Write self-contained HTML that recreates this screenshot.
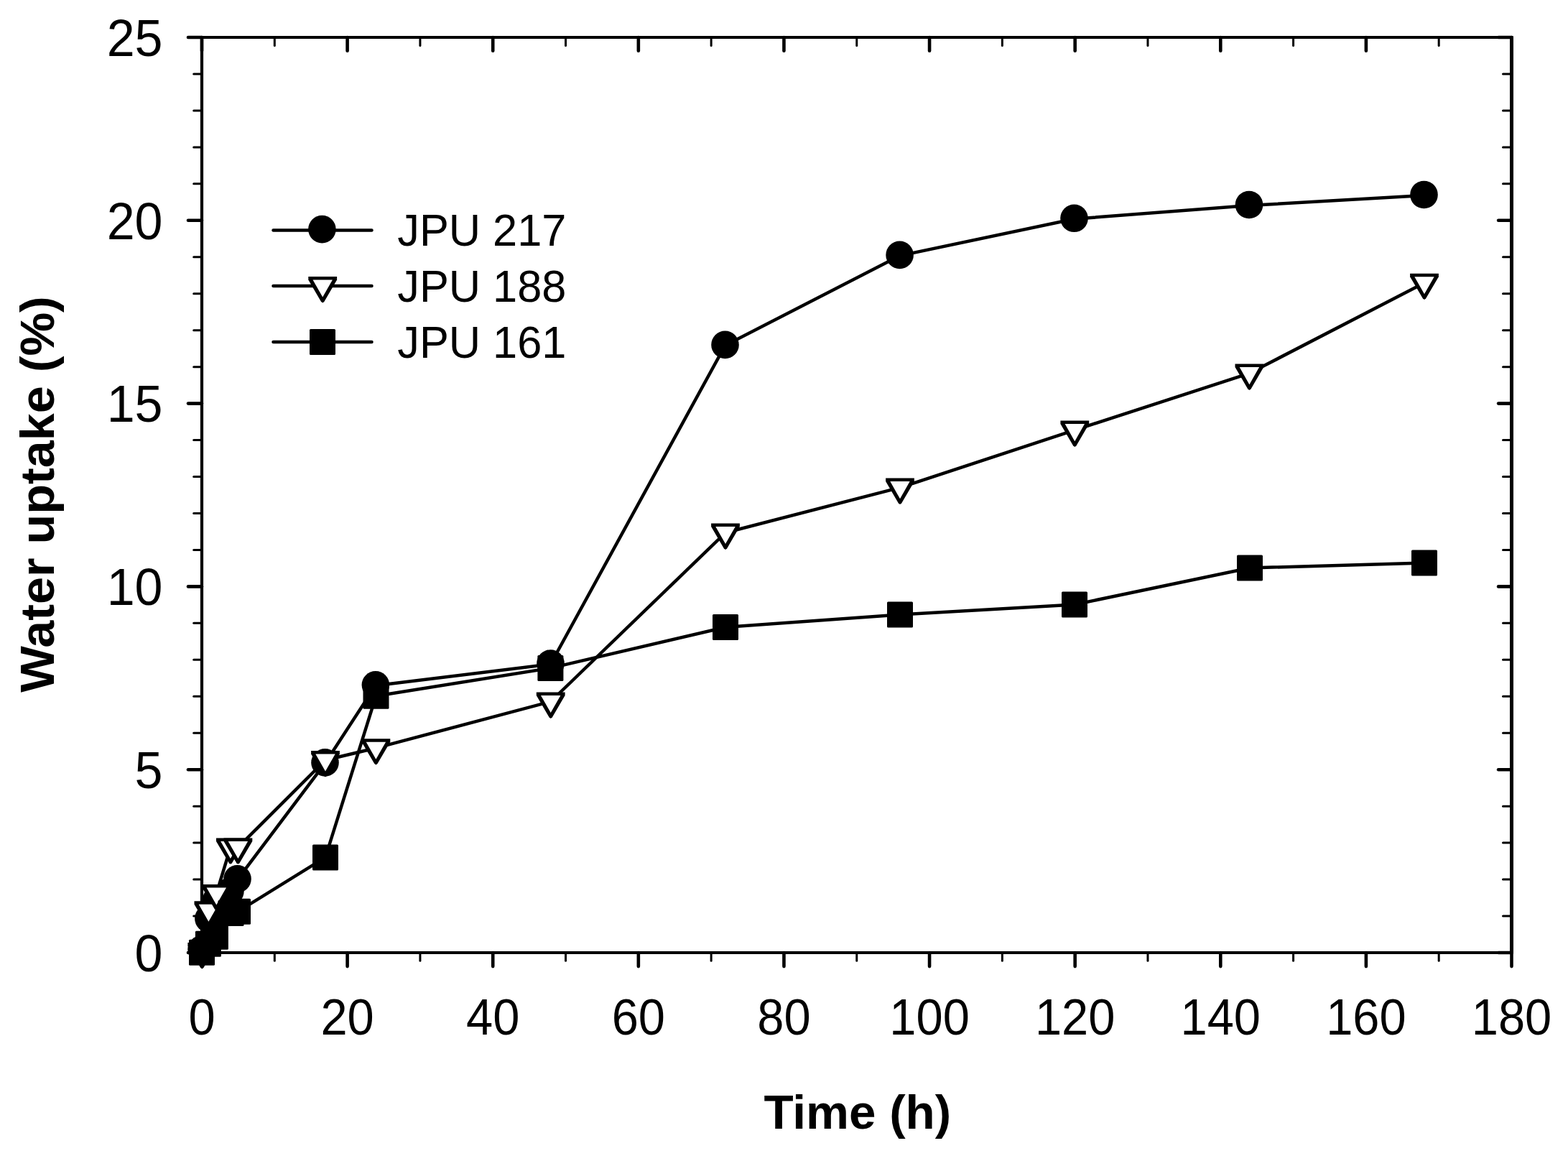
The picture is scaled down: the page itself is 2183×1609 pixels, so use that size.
<!DOCTYPE html>
<html><head><meta charset="utf-8"><title>Water uptake vs time</title>
<style>html,body{margin:0;padding:0;background:#fff;overflow:hidden;}svg{display:block;}</style>
</head><body>
<svg width="2183" height="1609" viewBox="0 0 2183 1609"><rect x="0" y="0" width="2183" height="1609" fill="#fff"/>
<g stroke="#000" stroke-linecap="round"><line x1="281" y1="1326" x2="262" y2="1326" stroke-width="4.6"/><line x1="2104.5" y1="1326" x2="2086.1" y2="1326" stroke-width="4.6"/><line x1="281" y1="1275.04" x2="269.7" y2="1275.04" stroke-width="3.0"/><line x1="2104.5" y1="1275.04" x2="2092.5" y2="1275.04" stroke-width="3.0"/><line x1="281" y1="1224.08" x2="269.7" y2="1224.08" stroke-width="3.0"/><line x1="2104.5" y1="1224.08" x2="2092.5" y2="1224.08" stroke-width="3.0"/><line x1="281" y1="1173.12" x2="269.7" y2="1173.12" stroke-width="3.0"/><line x1="2104.5" y1="1173.12" x2="2092.5" y2="1173.12" stroke-width="3.0"/><line x1="281" y1="1122.16" x2="269.7" y2="1122.16" stroke-width="3.0"/><line x1="2104.5" y1="1122.16" x2="2092.5" y2="1122.16" stroke-width="3.0"/><line x1="281" y1="1071.2" x2="262" y2="1071.2" stroke-width="4.6"/><line x1="2104.5" y1="1071.2" x2="2086.1" y2="1071.2" stroke-width="4.6"/><line x1="281" y1="1020.24" x2="269.7" y2="1020.24" stroke-width="3.0"/><line x1="2104.5" y1="1020.24" x2="2092.5" y2="1020.24" stroke-width="3.0"/><line x1="281" y1="969.28" x2="269.7" y2="969.28" stroke-width="3.0"/><line x1="2104.5" y1="969.28" x2="2092.5" y2="969.28" stroke-width="3.0"/><line x1="281" y1="918.32" x2="269.7" y2="918.32" stroke-width="3.0"/><line x1="2104.5" y1="918.32" x2="2092.5" y2="918.32" stroke-width="3.0"/><line x1="281" y1="867.36" x2="269.7" y2="867.36" stroke-width="3.0"/><line x1="2104.5" y1="867.36" x2="2092.5" y2="867.36" stroke-width="3.0"/><line x1="281" y1="816.4" x2="262" y2="816.4" stroke-width="4.6"/><line x1="2104.5" y1="816.4" x2="2086.1" y2="816.4" stroke-width="4.6"/><line x1="281" y1="765.44" x2="269.7" y2="765.44" stroke-width="3.0"/><line x1="2104.5" y1="765.44" x2="2092.5" y2="765.44" stroke-width="3.0"/><line x1="281" y1="714.48" x2="269.7" y2="714.48" stroke-width="3.0"/><line x1="2104.5" y1="714.48" x2="2092.5" y2="714.48" stroke-width="3.0"/><line x1="281" y1="663.52" x2="269.7" y2="663.52" stroke-width="3.0"/><line x1="2104.5" y1="663.52" x2="2092.5" y2="663.52" stroke-width="3.0"/><line x1="281" y1="612.56" x2="269.7" y2="612.56" stroke-width="3.0"/><line x1="2104.5" y1="612.56" x2="2092.5" y2="612.56" stroke-width="3.0"/><line x1="281" y1="561.6" x2="262" y2="561.6" stroke-width="4.6"/><line x1="2104.5" y1="561.6" x2="2086.1" y2="561.6" stroke-width="4.6"/><line x1="281" y1="510.64" x2="269.7" y2="510.64" stroke-width="3.0"/><line x1="2104.5" y1="510.64" x2="2092.5" y2="510.64" stroke-width="3.0"/><line x1="281" y1="459.68" x2="269.7" y2="459.68" stroke-width="3.0"/><line x1="2104.5" y1="459.68" x2="2092.5" y2="459.68" stroke-width="3.0"/><line x1="281" y1="408.72" x2="269.7" y2="408.72" stroke-width="3.0"/><line x1="2104.5" y1="408.72" x2="2092.5" y2="408.72" stroke-width="3.0"/><line x1="281" y1="357.76" x2="269.7" y2="357.76" stroke-width="3.0"/><line x1="2104.5" y1="357.76" x2="2092.5" y2="357.76" stroke-width="3.0"/><line x1="281" y1="306.8" x2="262" y2="306.8" stroke-width="4.6"/><line x1="2104.5" y1="306.8" x2="2086.1" y2="306.8" stroke-width="4.6"/><line x1="281" y1="255.84" x2="269.7" y2="255.84" stroke-width="3.0"/><line x1="2104.5" y1="255.84" x2="2092.5" y2="255.84" stroke-width="3.0"/><line x1="281" y1="204.88" x2="269.7" y2="204.88" stroke-width="3.0"/><line x1="2104.5" y1="204.88" x2="2092.5" y2="204.88" stroke-width="3.0"/><line x1="281" y1="153.92" x2="269.7" y2="153.92" stroke-width="3.0"/><line x1="2104.5" y1="153.92" x2="2092.5" y2="153.92" stroke-width="3.0"/><line x1="281" y1="102.96" x2="269.7" y2="102.96" stroke-width="3.0"/><line x1="2104.5" y1="102.96" x2="2092.5" y2="102.96" stroke-width="3.0"/><line x1="281" y1="52" x2="262" y2="52" stroke-width="4.6"/><line x1="2104.5" y1="52" x2="2086.1" y2="52" stroke-width="4.6"/><line x1="281" y1="1326" x2="281" y2="1345.1" stroke-width="4.6"/><line x1="281" y1="52" x2="281" y2="70.7" stroke-width="4.6"/><line x1="382.31" y1="1326" x2="382.31" y2="1337.3" stroke-width="3.0"/><line x1="382.31" y1="52" x2="382.31" y2="63.4" stroke-width="3.0"/><line x1="483.61" y1="1326" x2="483.61" y2="1345.1" stroke-width="4.6"/><line x1="483.61" y1="52" x2="483.61" y2="70.7" stroke-width="4.6"/><line x1="584.92" y1="1326" x2="584.92" y2="1337.3" stroke-width="3.0"/><line x1="584.92" y1="52" x2="584.92" y2="63.4" stroke-width="3.0"/><line x1="686.22" y1="1326" x2="686.22" y2="1345.1" stroke-width="4.6"/><line x1="686.22" y1="52" x2="686.22" y2="70.7" stroke-width="4.6"/><line x1="787.53" y1="1326" x2="787.53" y2="1337.3" stroke-width="3.0"/><line x1="787.53" y1="52" x2="787.53" y2="63.4" stroke-width="3.0"/><line x1="888.83" y1="1326" x2="888.83" y2="1345.1" stroke-width="4.6"/><line x1="888.83" y1="52" x2="888.83" y2="70.7" stroke-width="4.6"/><line x1="990.14" y1="1326" x2="990.14" y2="1337.3" stroke-width="3.0"/><line x1="990.14" y1="52" x2="990.14" y2="63.4" stroke-width="3.0"/><line x1="1091.44" y1="1326" x2="1091.44" y2="1345.1" stroke-width="4.6"/><line x1="1091.44" y1="52" x2="1091.44" y2="70.7" stroke-width="4.6"/><line x1="1192.75" y1="1326" x2="1192.75" y2="1337.3" stroke-width="3.0"/><line x1="1192.75" y1="52" x2="1192.75" y2="63.4" stroke-width="3.0"/><line x1="1294.06" y1="1326" x2="1294.06" y2="1345.1" stroke-width="4.6"/><line x1="1294.06" y1="52" x2="1294.06" y2="70.7" stroke-width="4.6"/><line x1="1395.36" y1="1326" x2="1395.36" y2="1337.3" stroke-width="3.0"/><line x1="1395.36" y1="52" x2="1395.36" y2="63.4" stroke-width="3.0"/><line x1="1496.67" y1="1326" x2="1496.67" y2="1345.1" stroke-width="4.6"/><line x1="1496.67" y1="52" x2="1496.67" y2="70.7" stroke-width="4.6"/><line x1="1597.97" y1="1326" x2="1597.97" y2="1337.3" stroke-width="3.0"/><line x1="1597.97" y1="52" x2="1597.97" y2="63.4" stroke-width="3.0"/><line x1="1699.28" y1="1326" x2="1699.28" y2="1345.1" stroke-width="4.6"/><line x1="1699.28" y1="52" x2="1699.28" y2="70.7" stroke-width="4.6"/><line x1="1800.58" y1="1326" x2="1800.58" y2="1337.3" stroke-width="3.0"/><line x1="1800.58" y1="52" x2="1800.58" y2="63.4" stroke-width="3.0"/><line x1="1901.89" y1="1326" x2="1901.89" y2="1345.1" stroke-width="4.6"/><line x1="1901.89" y1="52" x2="1901.89" y2="70.7" stroke-width="4.6"/><line x1="2003.19" y1="1326" x2="2003.19" y2="1337.3" stroke-width="3.0"/><line x1="2003.19" y1="52" x2="2003.19" y2="63.4" stroke-width="3.0"/><line x1="2104.5" y1="1326" x2="2104.5" y2="1345.1" stroke-width="4.6"/><line x1="2104.5" y1="52" x2="2104.5" y2="70.7" stroke-width="4.6"/></g>
<path d="M281 52H2104.5V1326H281Z" fill="none" stroke="#000" stroke-width="4.2" stroke-linejoin="miter"/>
<line x1="2104.5" y1="52" x2="2104.5" y2="1326" stroke="#000" stroke-width="5"/>
<polyline points="280.6,1322.3 290.4,1279.5 301.3,1253.5 320.4,1241.5 330.5,1224.3 452.5,1062.4 522.9,954.3 766.5,924.5 1009.5,480.9 1252.6,355.9 1495.5,304.8 1739,286 1982.5,272" fill="none" stroke="#000" stroke-width="4.5" stroke-linejoin="round" stroke-linecap="round"/>
<circle cx="280.6" cy="1321.3" r="19.3" fill="#000"/><circle cx="290.4" cy="1278.5" r="19.3" fill="#000"/><circle cx="301.3" cy="1252.5" r="19.3" fill="#000"/><circle cx="320.4" cy="1240.5" r="19.3" fill="#000"/><circle cx="330.5" cy="1223.3" r="19.3" fill="#000"/><circle cx="452.5" cy="1061.4" r="19.3" fill="#000"/><circle cx="522.9" cy="953.3" r="19.3" fill="#000"/><circle cx="766.5" cy="923.5" r="19.3" fill="#000"/><circle cx="1009.5" cy="479.9" r="19.3" fill="#000"/><circle cx="1252.6" cy="354.9" r="19.3" fill="#000"/><circle cx="1495.5" cy="303.8" r="19.3" fill="#000"/><circle cx="1739" cy="285" r="19.3" fill="#000"/><circle cx="1982.5" cy="271" r="19.3" fill="#000"/>
<polyline points="281.3,1325.1 290.4,1267.2 301.3,1244 320.9,1179.4 331.4,1179.4 453,1058 523.4,1041.2 766.7,976.5 1010,741.5 1253,678.6 1496.3,598.6 1739.4,519.6 1983,393.7" fill="none" stroke="#000" stroke-width="4.5" stroke-linejoin="round" stroke-linecap="round"/>
<polygon points="261.4,1312.1 301.2,1312.1 301.2,1316.6 283.4,1347 281.3,1348.5 279.2,1347 261.4,1316.6" fill="#000"/><polygon points="267.6,1316.6 295,1316.6 281.3,1340.7" fill="#fff"/><polygon points="270.5,1254.2 310.3,1254.2 310.3,1258.7 292.5,1289.1 290.4,1290.6 288.3,1289.1 270.5,1258.7" fill="#000"/><polygon points="276.7,1258.7 304.1,1258.7 290.4,1282.8" fill="#fff"/><polygon points="281.4,1231 321.2,1231 321.2,1235.5 303.4,1265.9 301.3,1267.4 299.2,1265.9 281.4,1235.5" fill="#000"/><polygon points="287.6,1235.5 315,1235.5 301.3,1259.6" fill="#fff"/><polygon points="301,1166.4 340.8,1166.4 340.8,1170.9 323,1201.3 320.9,1202.8 318.8,1201.3 301,1170.9" fill="#000"/><polygon points="307.2,1170.9 334.6,1170.9 320.9,1195" fill="#fff"/><polygon points="311.5,1166.4 351.3,1166.4 351.3,1170.9 333.5,1201.3 331.4,1202.8 329.3,1201.3 311.5,1170.9" fill="#000"/><polygon points="317.7,1170.9 345.1,1170.9 331.4,1195" fill="#fff"/><polygon points="433.1,1045 472.9,1045 472.9,1049.5 455.1,1079.9 453,1081.4 450.9,1079.9 433.1,1049.5" fill="#000"/><polygon points="439.3,1049.5 466.7,1049.5 453,1073.6" fill="#fff"/><polygon points="503.5,1028.2 543.3,1028.2 543.3,1032.7 525.5,1063.1 523.4,1064.6 521.3,1063.1 503.5,1032.7" fill="#000"/><polygon points="509.7,1032.7 537.1,1032.7 523.4,1056.8" fill="#fff"/><polygon points="746.8,963.5 786.6,963.5 786.6,968 768.8,998.4 766.7,999.9 764.6,998.4 746.8,968" fill="#000"/><polygon points="753,968 780.4,968 766.7,992.1" fill="#fff"/><polygon points="990.1,728.5 1029.9,728.5 1029.9,733 1012.1,763.4 1010,764.9 1007.9,763.4 990.1,733" fill="#000"/><polygon points="996.3,733 1023.7,733 1010,757.1" fill="#fff"/><polygon points="1233.1,665.6 1272.9,665.6 1272.9,670.1 1255.1,700.5 1253,702 1250.9,700.5 1233.1,670.1" fill="#000"/><polygon points="1239.3,670.1 1266.7,670.1 1253,694.2" fill="#fff"/><polygon points="1476.4,585.6 1516.2,585.6 1516.2,590.1 1498.4,620.5 1496.3,622 1494.2,620.5 1476.4,590.1" fill="#000"/><polygon points="1482.6,590.1 1510,590.1 1496.3,614.2" fill="#fff"/><polygon points="1719.5,506.6 1759.3,506.6 1759.3,511.1 1741.5,541.5 1739.4,543 1737.3,541.5 1719.5,511.1" fill="#000"/><polygon points="1725.7,511.1 1753.1,511.1 1739.4,535.2" fill="#fff"/><polygon points="1963.1,380.7 2002.9,380.7 2002.9,385.2 1985.1,415.6 1983,417.1 1980.9,415.6 1963.1,385.2" fill="#000"/><polygon points="1969.3,385.2 1996.7,385.2 1983,409.3" fill="#fff"/>
<polyline points="281,1325.8 289.9,1313.8 299.9,1303.8 321.5,1270.9 331,1268.8 453,1193.4 523.5,968.7 766.4,929.9 1010,873 1253,855.5 1496,841.5 1740,790.5 1983,783.4" fill="none" stroke="#000" stroke-width="4.5" stroke-linejoin="round" stroke-linecap="round"/>
<rect x="263" y="1307.8" width="36" height="36" rx="1.5" fill="#000"/><rect x="271.9" y="1295.8" width="36" height="36" rx="1.5" fill="#000"/><rect x="281.9" y="1285.8" width="36" height="36" rx="1.5" fill="#000"/><rect x="303.5" y="1252.9" width="36" height="36" rx="1.5" fill="#000"/><rect x="313" y="1250.8" width="36" height="36" rx="1.5" fill="#000"/><rect x="435" y="1175.4" width="36" height="36" rx="1.5" fill="#000"/><rect x="505.5" y="950.7" width="36" height="36" rx="1.5" fill="#000"/><rect x="748.4" y="911.9" width="36" height="36" rx="1.5" fill="#000"/><rect x="992" y="855" width="36" height="36" rx="1.5" fill="#000"/><rect x="1235" y="837.5" width="36" height="36" rx="1.5" fill="#000"/><rect x="1478" y="823.5" width="36" height="36" rx="1.5" fill="#000"/><rect x="1722" y="772.5" width="36" height="36" rx="1.5" fill="#000"/><rect x="1965" y="765.4" width="36" height="36" rx="1.5" fill="#000"/>
<g font-family='"Liberation Sans", Arial, Helvetica, sans-serif' font-size="70" fill="#000"><text transform="translate(226.5,1351.8) scale(1,1.03)" text-anchor="end">0</text><text transform="translate(226.5,1097) scale(1,1.03)" text-anchor="end">5</text><text transform="translate(226.5,842.2) scale(1,1.03)" text-anchor="end">10</text><text transform="translate(226.5,587.4) scale(1,1.03)" text-anchor="end">15</text><text transform="translate(226.5,332.6) scale(1,1.03)" text-anchor="end">20</text><text transform="translate(226.5,77.8) scale(1,1.03)" text-anchor="end">25</text><text transform="translate(281,1439.8) scale(0.955,1)" text-anchor="middle">0</text><text transform="translate(483.61,1439.8) scale(0.955,1)" text-anchor="middle">20</text><text transform="translate(686.22,1439.8) scale(0.955,1)" text-anchor="middle">40</text><text transform="translate(888.83,1439.8) scale(0.955,1)" text-anchor="middle">60</text><text transform="translate(1091.44,1439.8) scale(0.955,1)" text-anchor="middle">80</text><text transform="translate(1294.06,1439.8) scale(0.955,1)" text-anchor="middle">100</text><text transform="translate(1496.67,1439.8) scale(0.955,1)" text-anchor="middle">120</text><text transform="translate(1699.28,1439.8) scale(0.955,1)" text-anchor="middle">140</text><text transform="translate(1901.89,1439.8) scale(0.955,1)" text-anchor="middle">160</text><text transform="translate(2104.5,1439.8) scale(0.955,1)" text-anchor="middle">180</text></g>
<text transform="translate(1193.8,1571)" text-anchor="middle" font-family='"Liberation Sans", Arial, Helvetica, sans-serif' font-weight="bold" font-size="67.4">Time (h)</text>
<text transform="translate(75,687.9) rotate(-90) scale(1.012,1)" text-anchor="middle" font-family='"Liberation Sans", Arial, Helvetica, sans-serif' font-weight="bold" font-size="67.5">Water uptake (%)</text>
<line x1="380.5" y1="320.5" x2="517.5" y2="320.5" stroke="#000" stroke-width="4.5" stroke-linecap="round"/><circle cx="448.4" cy="319.1" r="19.3" fill="#000"/><text transform="translate(553.3,342) scale(1,1.04)" font-family='"Liberation Sans", Arial, Helvetica, sans-serif' font-size="61.3">JPU 217</text><line x1="380.5" y1="398" x2="517.5" y2="398" stroke="#000" stroke-width="4.5" stroke-linecap="round"/><polygon points="429.3,385 469.1,385 469.1,389.5 451.3,419.9 449.2,421.4 447.1,419.9 429.3,389.5" fill="#000"/><polygon points="435.5,389.5 462.9,389.5 449.2,413.6" fill="#fff"/><text transform="translate(553.3,420) scale(1,1.04)" font-family='"Liberation Sans", Arial, Helvetica, sans-serif' font-size="61.3">JPU 188</text><line x1="380.5" y1="476" x2="517.5" y2="476" stroke="#000" stroke-width="4.5" stroke-linecap="round"/><rect x="431" y="458" width="36" height="36" rx="1.5" fill="#000"/><text transform="translate(553.3,498) scale(1,1.04)" font-family='"Liberation Sans", Arial, Helvetica, sans-serif' font-size="61.3">JPU 161</text></svg>
</body></html>
